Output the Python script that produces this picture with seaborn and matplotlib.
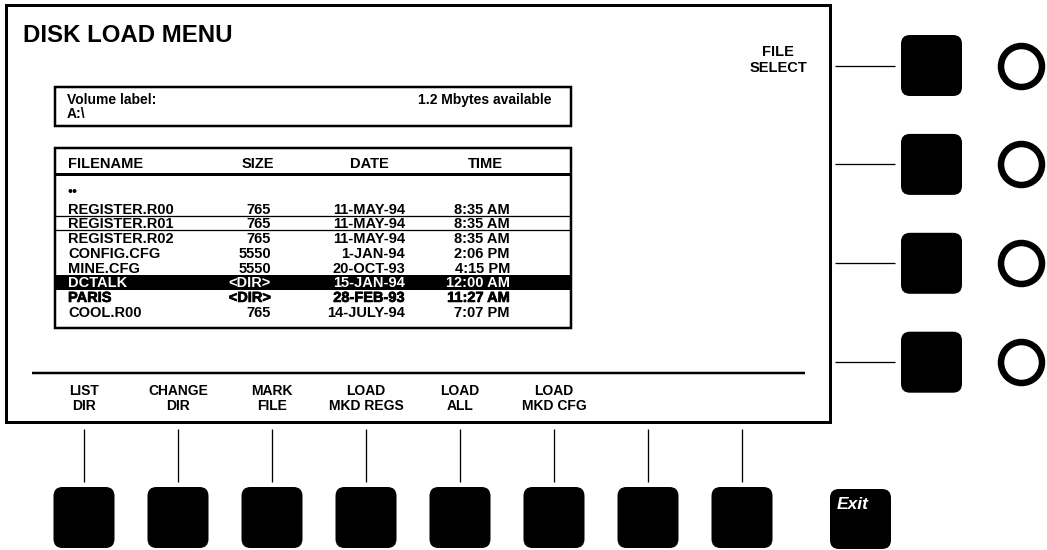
import matplotlib
matplotlib.use("Agg")
import matplotlib.pyplot as plt
import matplotlib.patheffects as pe
from matplotlib.patches import Rectangle, FancyBboxPatch
import pandas as pd
import seaborn as sns

# ---------------- data ----------------
title = "DISK LOAD MENU"
volume_label = "Volume label:"
drive = "A:\\"
free_space = "1.2 Mbytes available"
headers = ["FILENAME", "SIZE", "DATE", "TIME"]
parent_dir = "••"
filenames = ["REGISTER.R00", "REGISTER.R01", "REGISTER.R02", "CONFIG.CFG",
             "MINE.CFG", "DCTALK", "PARIS", "COOL.R00"]
sizes = ["765", "765", "765", "5550", "5550", "<DIR>", "<DIR>", "765"]
dates = ["11-MAY-94", "11-MAY-94", "11-MAY-94", "1-JAN-94", "20-OCT-93",
         "15-JAN-94", "28-FEB-93", "14-JULY-94"]
times = ["8:35 AM", "8:35 AM", "8:35 AM", "2:06 PM", "4:15 PM",
         "12:00 AM", "11:27 AM", "7:07 PM"]
boxed_row = "REGISTER.R01"
selected_row = "DCTALK"
bold_row = "PARIS"
softkeys = [("LIST", "DIR"), ("CHANGE", "DIR"), ("MARK", "FILE"),
            ("LOAD", "MKD REGS"), ("LOAD", "ALL"), ("LOAD", "MKD CFG"),
            ("", ""), ("", "")]
sidekeys = [("FILE", "SELECT"), ("", ""), ("", ""), ("", "")]
exit_label = "Exit"

# ---------------- style ----------------
sns.set_theme(style="white")
plt.rcParams["font.family"] = ["Liberation Sans", "DejaVu Sans"]
plt.rcParams["font.weight"] = "bold"

W, H = 1047, 550
fig = plt.figure(figsize=(W / 100, H / 100), dpi=100)
ax = fig.add_axes([0, 0, 1, 1])
ax.set_xlim(0, W)
ax.set_ylim(H, 0)
ax.axis("off")

PX = 0.72  # points per pixel


def txt(x, y, s, size, ha="left", color="black", style="normal", heavy=False):
    # y is the vertical centre of capital letters (pixels)
    base = y + 0.716 * size * (100 / 72) / 2
    t = ax.text(x, base, s, fontsize=size, ha=ha, va="baseline", color=color,
                fontweight="bold", fontstyle=style)
    if heavy:
        t.set_path_effects([pe.Stroke(linewidth=0.5, foreground=color), pe.Normal()])
    return t


def hline(x0, x1, y, lw):
    ax.plot([x0, x1], [y, y], color="black", lw=lw * PX, solid_capstyle="butt")


def vline(x, y0, y1, lw):
    ax.plot([x, x], [y0, y1], color="black", lw=lw * PX, solid_capstyle="butt")


def rbox(x0, y0, w, h, r=9):
    ax.add_patch(FancyBboxPatch((x0, y0), w, h,
                                boxstyle=f"round,pad=0,rounding_size={r}",
                                fc="black", ec="black", lw=0))


# main screen
ax.add_patch(Rectangle((6, 5), 824, 417, fill=False, ec="black", lw=3 * PX))
txt(23, 33, title, 17.3)

# side key label
txt(778, 51, sidekeys[0][0], 10.5, ha="center")
txt(778, 67, sidekeys[0][1], 10.5, ha="center")

# volume box
ax.add_patch(Rectangle((55, 87), 516, 39, fill=False, ec="black", lw=2.5 * PX))
txt(67, 99, volume_label, 10)
txt(67, 113, drive, 10)
txt(552, 99, free_space, 10, ha="right")

# file table
tx0, tx1, ty0, ty1 = 55, 571, 148, 328
ax.add_patch(Rectangle((tx0, ty0), tx1 - tx0, ty1 - ty0, fill=False, ec="black", lw=2.5 * PX))
col_name, col_size, col_date, col_time = 68, 271, 405, 510
hdr_y = 163
txt(col_name, hdr_y, headers[0], 10.5)
txt(258, hdr_y, headers[1], 10.5, ha="center")
txt(369, hdr_y, headers[2], 10.5, ha="center")
txt(485, hdr_y, headers[3], 10.5, ha="center")
hline(tx0, tx1, 174, 3)
ax.text(67, 196, parent_dir, fontsize=10, ha="left", va="baseline", color="black")

row0, dy = 208.5, 14.7
for i, (fn, sz, dt, tm) in enumerate(zip(filenames, sizes, dates, times)):
    y = row0 + i * dy
    color = "black"
    heavy = fn == bold_row
    if fn == selected_row:
        ax.add_patch(Rectangle((tx0, y - 7), tx1 - tx0, 14.5, fc="black", ec="none"))
        color = "white"
    if fn == boxed_row:
        hline(tx0, tx1, y - 7.5, 1.3)
        hline(tx0, tx1, y + 6.5, 1.3)
    txt(col_name, y, fn, 10.5, color=color, heavy=heavy)
    txt(col_size, y, sz, 10.5, ha="right", color=color, heavy=heavy)
    txt(col_date, y, dt, 10.5, ha="right", color=color, heavy=heavy)
    txt(col_time, y, tm, 10.5, ha="right", color=color, heavy=heavy)

# bottom separator + softkey labels
hline(32, 805, 373, 2.5)
key_x = [84 + 94 * i for i in range(len(softkeys))]
for x, (l1, l2) in zip(key_x, softkeys):
    if l1:
        txt(x, 390, l1, 10, ha="center")
        txt(x, 405, l2, 10, ha="center")
    vline(x, 429, 482, 1.3)
    rbox(x - 30.5, 487, 61, 61)

# exit key
rbox(830, 489, 61, 60)
txt(837, 503, exit_label, 12.5, color="white", style="italic")

# side keys
side_y = [65.5 + 98.9 * i for i in range(len(sidekeys))]
for y in side_y:
    hline(835, 895, y, 1.3)
    rbox(901, y - 30.5, 61, 61)

rings = pd.DataFrame({"x": [1021] * len(side_y), "y": side_y})
sns.scatterplot(data=rings, x="x", y="y", ax=ax, s=(41 * PX) ** 2, marker="o",
                facecolor="white", edgecolor="black", linewidth=6.5 * PX, legend=False)
ax.set_xlim(0, W)
ax.set_ylim(H, 0)
ax.axis("off")

fig.savefig("out.png", dpi=100, facecolor="white")
